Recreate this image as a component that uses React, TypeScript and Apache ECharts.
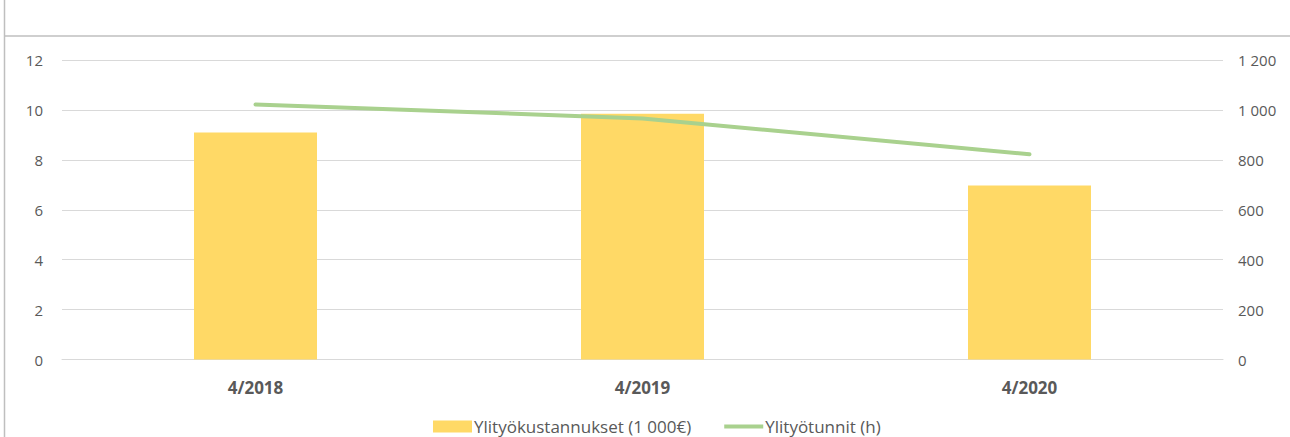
import React, { useEffect, useRef } from "react";
import * as echarts from "echarts";

const categories = ["4/2018", "4/2019", "4/2020"];
const costValues = [9.1, 9.85, 6.97];
const hourValues = [1022, 966, 822];
const costName = "Ylityökustannukset (1 000€)";
const hourName = "Ylityötunnit (h)";

const fmtThousands = (v: number) => String(v).replace(/\B(?=(\d{3})+(?!\d))/g, " ");

export default function App() {
  const ref = useRef<HTMLDivElement>(null);
  useEffect(() => {
    document.body.style.margin = "0";
    const chart = echarts.init(ref.current!, null, { renderer: "svg" });
    const font = "'Open Sans', 'Noto Sans', sans-serif";
    chart.setOption({
      animation: false,
      backgroundColor: "#ffffff",
      textStyle: { fontFamily: font },
      graphic: [
        { type: "line", shape: { x1: 4.5, y1: 0, x2: 4.5, y2: 437 }, style: { stroke: "#bfbfbf", lineWidth: 1.5 } },
        { type: "line", shape: { x1: 4, y1: 36, x2: 1290, y2: 36 }, style: { stroke: "#bfbfbf", lineWidth: 1.5 } },
      ],
      grid: { left: 62, right: 67, top: 60, bottom: 77.5, containLabel: false },
      legend: {
        top: 418,
        padding: 0,
        left: 433,
        itemGap: 33,
        itemWidth: 39,
        itemHeight: 12,
        textStyle: { color: "#595959", fontSize: 17, fontFamily: font, padding: [0, 0, 0, -3] },
        data: [
          { name: costName, icon: "rect" },
          { name: hourName, icon: "path://M0,0h39v4h-39z" },
        ],
      },
      xAxis: {
        type: "category",
        data: categories,
        axisTick: { show: false },
        axisLine: { lineStyle: { color: "#d9d9d9", width: 1 } },
        axisLabel: { color: "#595959", fontSize: 17, fontWeight: "bold", margin: 19, fontFamily: font },
      },
      yAxis: [
        {
          type: "value",
          min: 0,
          max: 12,
          interval: 2,
          axisLine: { show: false },
          axisTick: { show: false },
          splitLine: { lineStyle: { color: "#d9d9d9", width: 1 } },
          axisLabel: { color: "#595959", fontSize: 15, margin: 19, fontFamily: font },
        },
        {
          type: "value",
          min: 0,
          max: 1200,
          interval: 200,
          axisLine: { show: false },
          axisTick: { show: false },
          splitLine: { show: false },
          axisLabel: { color: "#595959", fontSize: 15, margin: 15, fontFamily: font, formatter: (v: number) => fmtThousands(v) },
        },
      ],
      series: [
        {
          name: costName,
          type: "bar",
          data: costValues,
          barWidth: 123,
          itemStyle: { color: "#ffd966" },
          yAxisIndex: 0,
        },
        {
          name: hourName,
          type: "line",
          data: hourValues,
          yAxisIndex: 1,
          showSymbol: false,
          symbol: "none",
          lineStyle: { color: "#a9d18e", width: 4, cap: "round" },
          itemStyle: { color: "#a9d18e" },
        },
      ],
    });
    return () => chart.dispose();
  }, []);
  return <div ref={ref} style={{ position: "absolute", left: 0, top: 0, width: 1290, height: 437 }} />;
}
